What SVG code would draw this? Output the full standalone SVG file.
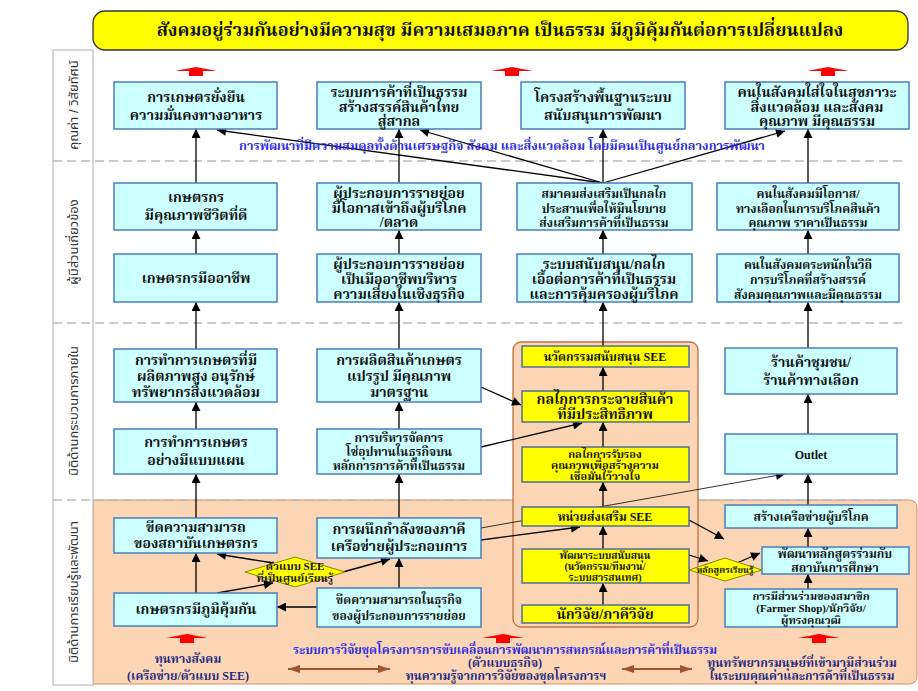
<svg xmlns="http://www.w3.org/2000/svg" width="918" height="691" viewBox="0 0 918 691">
<style>
.box{fill:#CCFFFF;stroke:#4A7EBB;stroke-width:1.5}
.yb{fill:#FFFF00;stroke:#4F6F8F;stroke-width:1.5}
.t{font-family:"Liberation Serif","Noto Serif Thai","Noto Sans Thai",serif;font-weight:bold;font-size:14px;fill:#111;text-anchor:middle}
.s{font-size:12px}
.xs{font-size:11px}
.xxs{font-size:10px}
.lab{font-family:"Liberation Sans","Noto Sans Thai",sans-serif;font-size:13px;fill:#333;text-anchor:middle}
.blue{fill:#2B2BE0}
.navy{fill:#1F2A80}
.c line{stroke:#000;stroke-width:1.3;marker-end:url(#ah)}
.dash{stroke:#BBBBBB;stroke-width:1.5;stroke-dasharray:9 5}
</style>
<defs>
<marker id="ah" viewBox="0 0 10 10" refX="10" refY="5" markerWidth="11" markerHeight="9" markerUnits="userSpaceOnUse" orient="auto"><path d="M0,0 L10,5 L0,10 z" fill="#000"/></marker>
<marker id="bh" viewBox="0 0 12 8" refX="12" refY="4" markerWidth="12" markerHeight="8" markerUnits="userSpaceOnUse" orient="auto-start-reverse"><path d="M0,0 L12,4 L0,8 z" fill="#A0522D"/></marker>
<path id="red" d="M-21,4 L0,0 L21,4 L7,4 L7,9 L-7,9 L-7,4 Z" fill="#FF0000"/>
</defs>
<rect width="918" height="691" fill="#fff"/>

<!-- background lanes -->
<path d="M93,500 H909 Q917,500 917,508 V676 Q917,684 909,684 H93 Z" fill="#FCD5B4" stroke="#D09060" stroke-width="1"/>
<rect x="53" y="50" width="40" height="635" fill="#fff" stroke="#BBBBBB" stroke-width="1.2"/>
<line class="dash" x1="53" y1="161" x2="907" y2="161"/>
<line class="dash" x1="53" y1="323" x2="907" y2="323"/>
<line class="dash" x1="53" y1="500" x2="907" y2="500"/>
<rect x="513" y="342" width="185" height="285" rx="8" fill="#FCD5B4" stroke="#C07040" stroke-width="1.3"/>

<g id="lane-labels">
<text class="lab" transform="translate(78,105) rotate(-90)">คุณค่า / วิสัยทัศน์</text>
<text class="lab" transform="translate(78,242) rotate(-90)">ผู้มีส่วนเกี่ยวข้อง</text>
<text class="lab" transform="translate(78,411) rotate(-90)">มิติด้านกระบวนการภายใน</text>
<text class="lab" transform="translate(78,592) rotate(-90)">มิติด้านการเรียนรู้และพัฒนา</text>
</g>

<g id="title">
<rect x="93" y="11" width="815" height="39" rx="12" fill="#FFFF00" stroke="#333" stroke-width="1.3"/>
<text class="t" x="500" y="36" style="font-size:18px">สังคมอยู่ร่วมกันอย่างมีความสุข มีความเสมอภาค เป็นธรรม มีภูมิคุ้มกันต่อการเปลี่ยนแปลง</text>
</g>

<g id="red-arrows">
<use href="#red" x="196" y="67"/>
<use href="#red" x="512" y="67"/>
<use href="#red" x="828" y="67"/>
<use href="#red" x="187" y="634"/>
<use href="#red" x="503" y="634"/>
<use href="#red" x="819" y="634"/>
</g>

<!-- connectors -->
<g id="connectors" class="c">
<line x1="196" y1="593" x2="196" y2="553"/>
<line x1="196" y1="518" x2="196" y2="474"/>
<line x1="196" y1="429" x2="196" y2="402"/>
<line x1="196" y1="349" x2="196" y2="302"/>
<line x1="196" y1="254" x2="196" y2="230"/>
<line x1="196" y1="183" x2="196" y2="129"/>
<line x1="399" y1="588" x2="399" y2="558"/>
<line x1="399" y1="518" x2="399" y2="474"/>
<line x1="399" y1="429" x2="399" y2="402"/>
<line x1="399" y1="349" x2="399" y2="302"/>
<line x1="399" y1="254" x2="399" y2="230"/>
<line x1="399" y1="183" x2="399" y2="129"/>
<line x1="603" y1="605" x2="603" y2="583"/>
<line x1="603" y1="549" x2="603" y2="526"/>
<line x1="603" y1="507" x2="603" y2="482"/>
<line x1="603" y1="447" x2="603" y2="422"/>
<line x1="603" y1="391" x2="603" y2="367"/>
<line x1="603" y1="346" x2="603" y2="302"/>
<line x1="603" y1="254" x2="603" y2="230"/>
<line x1="603" y1="183" x2="603" y2="129"/>
<line x1="808" y1="589" x2="808" y2="574"/>
<line x1="808" y1="547" x2="808" y2="528"/>
<line x1="808" y1="505" x2="808" y2="474"/>
<line x1="808" y1="434" x2="808" y2="394"/>
<line x1="808" y1="348" x2="808" y2="302"/>
<line x1="808" y1="254" x2="808" y2="230"/>
<line x1="808" y1="183" x2="808" y2="129"/>
<line x1="603" y1="183" x2="217" y2="130"/>
<line x1="603" y1="183" x2="420" y2="130"/>
<line x1="603" y1="183" x2="785" y2="131"/>
<line x1="481" y1="387" x2="521" y2="405"/>
<line x1="481" y1="447" x2="582" y2="423"/>
<line x1="481" y1="528" x2="785" y2="474" style="stroke-width:0.8"/>
<line x1="481" y1="540" x2="580" y2="527"/>
<line x1="689" y1="520" x2="724" y2="539"/>
<line x1="689" y1="555" x2="708" y2="561"/>
<line x1="737" y1="563" x2="760" y2="553"/>
<line x1="217" y1="593" x2="273" y2="583"/>
<line x1="273" y1="563" x2="217" y2="554"/>
<line x1="343" y1="572" x2="390" y2="559"/>
<line x1="317" y1="607" x2="277" y2="607"/>
</g>

<g id="text-blue-mid">
<text class="t blue" x="502" y="150" style="font-size:12.5px">การพัฒนาที่มีความสมดุลทั้งด้านเศรษฐกิจ สังคม และสิ่งแวดล้อม โดยมีคนเป็นศูนย์กลางการพัฒนา</text>
</g>

<!-- Row A -->
<g id="a1"><rect class="box" x="114" y="82" width="163" height="47"/><text class="t" x="196" y="102">การเกษตรยั่งยืน</text><text class="t" x="196" y="120">ความมั่นคงทางอาหาร</text></g>
<g id="a2"><rect class="box" x="317" y="82" width="164" height="47"/><text class="t" x="399" y="97">ระบบการค้าที่เป็นธรรม</text><text class="t" x="399" y="112">สร้างสรรค์สินค้าไทย</text><text class="t" x="399" y="126">สู่สากล</text></g>
<g id="a3"><rect class="box" x="521" y="82" width="164" height="47"/><text class="t" x="603" y="102">โครงสร้างพื้นฐานระบบ</text><text class="t" x="603" y="120">สนับสนุนการพัฒนา</text></g>
<g id="a4"><rect class="box" x="725" y="82" width="184" height="47"/><text class="t" x="817" y="97">คนในสังคมใส่ใจในสุขภาวะ</text><text class="t" x="817" y="112">สิ่งแวดล้อม และสังคม</text><text class="t" x="817" y="126">คุณภาพ มีคุณธรรม</text></g>

<!-- Row B -->
<g id="b1"><rect class="box" x="114" y="183" width="163" height="47"/><text class="t" x="196" y="202">เกษตรกร</text><text class="t" x="196" y="220">มีคุณภาพชีวิตที่ดี</text></g>
<g id="b2"><rect class="box" x="317" y="183" width="164" height="47"/><text class="t" x="399" y="198">ผู้ประกอบการรายย่อย</text><text class="t" x="399" y="213">มีโอกาสเข้าถึงผู้บริโภค</text><text class="t" x="399" y="227">/ตลาด</text></g>
<g id="b3"><rect class="box" x="517" y="183" width="175" height="47"/><text class="t s" x="604" y="198">สมาคมส่งเสริมเป็นกลไก</text><text class="t s" x="604" y="213">ประสานเพื่อให้มีนโยบาย</text><text class="t s" x="604" y="227">ส่งเสริมการค้าที่เป็นธรรม</text></g>
<g id="b4"><rect class="box" x="717" y="183" width="182" height="47"/><text class="t s" x="808" y="198">คนในสังคมมีโอกาส/</text><text class="t s" x="808" y="213">ทางเลือกในการบริโภคสินค้า</text><text class="t s" x="808" y="227">คุณภาพ ราคาเป็นธรรม</text></g>

<!-- Row C -->
<g id="c1"><rect class="box" x="114" y="254" width="163" height="48"/><text class="t" x="196" y="283">เกษตรกรมืออาชีพ</text></g>
<g id="c2"><rect class="box" x="317" y="254" width="164" height="48"/><text class="t" x="399" y="269">ผู้ประกอบการรายย่อย</text><text class="t" x="399" y="284">เป็นมืออาชีพบริหาร</text><text class="t" x="399" y="299">ความเสี่ยงในเชิงธุรกิจ</text></g>
<g id="c3"><rect class="box" x="517" y="254" width="175" height="48"/><text class="t" x="604" y="269">ระบบสนับสนุน/กลไก</text><text class="t" x="604" y="284">เอื้อต่อการค้าที่เป็นธรรม</text><text class="t" x="604" y="299">และการคุ้มครองผู้บริโภค</text></g>
<g id="c4"><rect class="box" x="717" y="254" width="182" height="48"/><text class="t s" x="808" y="269">คนในสังคมตระหนักในวิถี</text><text class="t s" x="808" y="284">การบริโภคที่สร้างสรรค์</text><text class="t s" x="808" y="299">สังคมคุณภาพและมีคุณธรรม</text></g>

<!-- Row D -->
<g id="d1"><rect class="box" x="114" y="349" width="163" height="53"/><text class="t" x="196" y="365">การทำการเกษตรที่มี</text><text class="t" x="196" y="381">ผลิตภาพสูง อนุรักษ์</text><text class="t" x="196" y="397">ทรัพยากรสิ่งแวดล้อม</text></g>
<g id="d2"><rect class="box" x="317" y="349" width="164" height="53"/><text class="t" x="399" y="365">การผลิตสินค้าเกษตร</text><text class="t" x="399" y="381">แปรรูป มีคุณภาพ</text><text class="t" x="399" y="397">มาตรฐาน</text></g>
<g id="d4"><rect class="box" x="725" y="348" width="172" height="46"/><text class="t" x="811" y="367">ร้านค้าชุมชน/</text><text class="t" x="811" y="385">ร้านค้าทางเลือก</text></g>

<!-- Row E -->
<g id="e1"><rect class="box" x="114" y="429" width="163" height="45"/><text class="t" x="196" y="447">การทำการเกษตร</text><text class="t" x="196" y="465">อย่างมีแบบแผน</text></g>
<g id="e2"><rect class="box" x="317" y="429" width="164" height="45"/><text class="t s" x="399" y="442">การบริหารจัดการ</text><text class="t s" x="399" y="456">โซ่อุปทานในธุรกิจบน</text><text class="t s" x="399" y="470">หลักการการค้าที่เป็นธรรม</text></g>
<g id="e4"><rect class="box" x="725" y="434" width="172" height="40"/><text class="t s" x="811" y="459">Outlet</text></g>

<!-- Yellow column -->
<g id="y1"><rect class="yb" x="522" y="346" width="167" height="21"/><text class="t s" x="605" y="361">นวัตกรรมสนับสนุน SEE</text></g>
<g id="y2"><rect class="yb" x="522" y="391" width="167" height="31"/><text class="t" x="605" y="404">กลไกการกระจายสินค้า</text><text class="t" x="605" y="419">ที่มีประสิทธิภาพ</text></g>
<g id="y3"><rect class="yb" x="522" y="447" width="167" height="35"/><text class="t xs" x="605" y="458">กลไกการรับรอง</text><text class="t xs" x="605" y="469">คุณภาพเพื่อสร้างความ</text><text class="t xs" x="605" y="480">เชื่อมั่นไว้วางใจ</text></g>
<g id="y4"><rect class="yb" x="522" y="507" width="167" height="19"/><text class="t s" x="605" y="521">หน่วยส่งเสริม SEE</text></g>
<g id="y5"><rect class="yb" x="522" y="549" width="167" height="34"/><text class="t xxs" x="605" y="559">พัฒนาระบบสนับสนุน</text><text class="t xxs" x="605" y="570">(นวัตกรรม/ทีมงาน/</text><text class="t xxs" x="605" y="581">ระบบสารสนเทศ)</text></g>
<g id="y6"><rect class="yb" x="522" y="605" width="167" height="18"/><text class="t" x="605" y="619">นักวิจัย/ภาคีวิจัย</text></g>

<!-- Bottom lane -->
<g id="f1"><rect class="box" x="114" y="518" width="163" height="35"/><text class="t" x="196" y="532">ขีดความสามารถ</text><text class="t" x="196" y="548">ของสถาบันเกษตรกร</text></g>
<g id="f2"><rect class="box" x="114" y="593" width="163" height="33"/><text class="t" x="196" y="614">เกษตรกรมีภูมิคุ้มกัน</text></g>
<g id="f3"><rect class="box" x="317" y="518" width="164" height="40"/><text class="t" x="399" y="534">การผนึกกำลังของภาคี</text><text class="t" x="399" y="551">เครือข่ายผู้ประกอบการ</text></g>
<g id="f4"><rect class="box" x="317" y="588" width="164" height="39"/><text class="t s" x="399" y="604">ขีดความสามารถในธุรกิจ</text><text class="t s" x="399" y="620">ของผู้ประกอบการรายย่อย</text></g>
<g id="dm1"><polygon points="245,572 295,557 345,572 295,587" fill="#FFFF00" stroke="#8A8A00" stroke-width="1"/><text class="t xs" x="295" y="570">ตัวแบบ SEE</text><text class="t xs" x="295" y="582">ที่เป็นศูนย์เรียนรู้</text></g>
<g id="g1"><rect class="box" x="725" y="505" width="172" height="23"/><text class="t s" x="811" y="521">สร้างเครือข่ายผู้บริโภค</text></g>
<g id="g2"><rect class="box" x="762" y="547" width="147" height="27"/><text class="t s" x="835" y="558">พัฒนาหลักสูตรร่วมกับ</text><text class="t s" x="835" y="572">สถาบันการศึกษา</text></g>
<g id="g3"><rect class="box" x="725" y="589" width="172" height="38"/><text class="t xs" x="811" y="600">การมีส่วนร่วมของสมาชิก</text><text class="t xs" x="811" y="612">(Farmer Shop)/นักวิจัย/</text><text class="t xs" x="811" y="624">ผู้ทรงคุณวุฒิ</text></g>
<g id="dm2"><polygon points="689,570 725,558 762,570 725,581" fill="#FFFF00" stroke="#8A8A00" stroke-width="1"/><text class="t" x="725" y="573" style="font-size:9px">หลักสูตรเรียนรู้</text></g>

<g id="bottom-text">
<text class="t s navy" x="188" y="663">ทุนทางสังคม</text>
<text class="t s navy" x="188" y="680">(เครือข่าย/ตัวแบบ SEE)</text>
<text class="t s blue" x="505" y="654">ระบบการวิจัยชุดโครงการการขับเคลื่อนการพัฒนาการสหกรณ์และการค้าที่เป็นธรรม</text>
<text class="t s navy" x="505" y="667">(ตัวแบบธุรกิจ)</text>
<text class="t s navy" x="506" y="680">ทุนความรู้จากการวิจัยของชุดโครงการฯ</text>
<text class="t s navy" x="802" y="667">ทุนทรัพยากรมนุษย์ที่เข้ามามีส่วนร่วม</text>
<text class="t s navy" x="802" y="680">ในระบบคุณค่าและการค้าที่เป็นธรรม</text>
</g>
<g id="brown-arrows">
<line x1="288" y1="669" x2="390" y2="669" stroke="#A0522D" stroke-width="2" marker-start="url(#bh)" marker-end="url(#bh)"/>
<line x1="622" y1="669" x2="692" y2="669" stroke="#A0522D" stroke-width="2" marker-start="url(#bh)" marker-end="url(#bh)"/>
</g>
</svg>
